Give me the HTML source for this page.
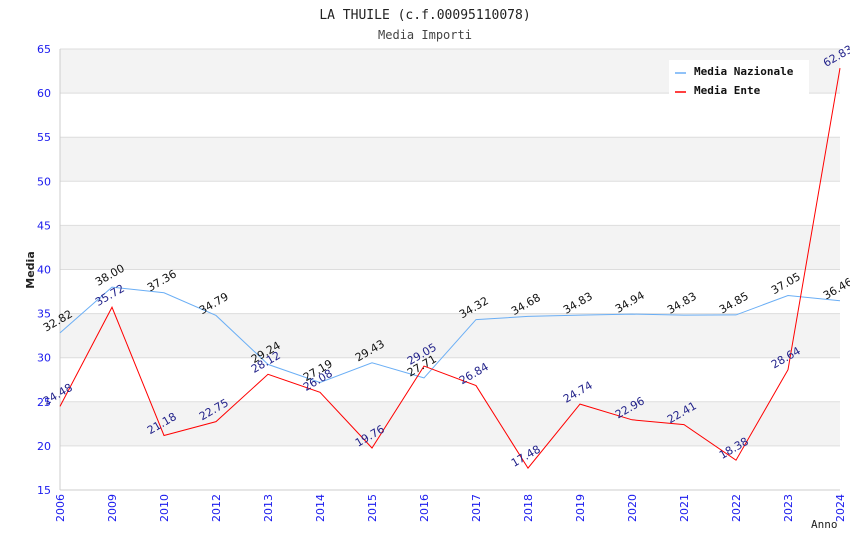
<!DOCTYPE html>
<html><head><meta charset="utf-8"><style>
body{margin:0;background:#fff;}
svg text{font-family:"DejaVu Sans","Liberation Sans",sans-serif;}
</style></head><body>
<svg id="chart" width="850" height="550" xmlns="http://www.w3.org/2000/svg">
<rect x="0" y="0" width="850" height="550" fill="#fff"/>
<text x="425" y="19" text-anchor="middle" font-size="13" fill="#222" style="font-family:'DejaVu Sans Mono','Liberation Mono',monospace">LA THUILE (c.f.00095110078)</text>
<text x="425" y="39" text-anchor="middle" font-size="12" fill="#444" style="font-family:'DejaVu Sans Mono','Liberation Mono',monospace">Media Importi</text>
<g id="bands"></g><g id="grid"></g><g id="axes"></g><g id="series"></g><g id="labels"></g>
<text transform="translate(34,270) rotate(-90)" text-anchor="middle" font-size="11" font-weight="bold" fill="#222">Media</text>
<text x="811" y="528" font-size="11" fill="#222" style="font-family:'DejaVu Sans Mono','Liberation Mono',monospace">Anno</text>
<g>
<rect x="669" y="60" width="140" height="36" fill="#fff"/>
<line x1="675" y1="73" x2="686" y2="73" stroke="#6aaef5" stroke-width="1.5"/>
<text x="694" y="75" font-size="11" font-weight="bold" fill="#111" style="font-family:'DejaVu Sans Mono','Liberation Mono',monospace">Media Nazionale</text>
<line x1="675" y1="92" x2="686" y2="92" stroke="#f00" stroke-width="1.5"/>
<text x="694" y="94" font-size="11" font-weight="bold" fill="#111" style="font-family:'DejaVu Sans Mono','Liberation Mono',monospace">Media Ente</text>
</g>
</svg>
<script>
const categories=["2006","2009","2010","2012","2013","2014","2015","2016","2017","2018","2019","2020","2021","2022","2023","2024"];
const nazionale=[32.82,38.00,37.36,34.79,29.24,27.19,29.43,27.71,34.32,34.68,34.83,34.94,34.83,34.85,37.05,36.46];
const ente=[24.48,35.72,21.18,22.75,28.12,26.08,19.76,29.05,26.84,17.48,24.74,22.96,22.41,18.38,28.64,62.83];
const yTicks=[15,20,25,30,35,40,45,50,55,60,65];
const NS="http://www.w3.org/2000/svg";
const L=60,R=840,T=49,B=490,ymin=15,ymax=65;
const xs=i=>L+i*(R-L)/(categories.length-1);
const ys=v=>B-(v-ymin)/(ymax-ymin)*(B-T);
function mk(tag,attrs,parent){const e=document.createElementNS(NS,tag);for(const k in attrs)e.setAttribute(k,attrs[k]);document.getElementById(parent).appendChild(e);return e;}
for(let i=0;i<yTicks.length-1;i++){
  if(i%2===1){const r=mk('rect',{x:L,y:ys(yTicks[i+1]),width:R-L,height:ys(yTicks[i])-ys(yTicks[i+1]),fill:'#f3f3f3'},'bands');
  
  }
}
yTicks.forEach(v=>{
  const g=mk('line',{x1:L,x2:R,y1:ys(v),y2:ys(v),stroke:'#ddd','stroke-width':1},'grid');
  
  
  const t=mk('text',{x:51,y:ys(v)+4,'text-anchor':'end','font-size':11,fill:'#1a1aee'},'axes');
  t.textContent=v;
  
  
});
mk('line',{x1:L,x2:L,y1:T,y2:B,stroke:'#ccc'},'axes');
mk('line',{x1:L,x2:R,y1:B,y2:B,stroke:'#ccc'},'axes');
categories.forEach((c,i)=>{
  const t=mk('text',{transform:`translate(${xs(i)+4},${B+4}) rotate(-90)`,'text-anchor':'end','font-size':11,fill:'#1a1aee'},'axes');
  t.textContent=c;
  
  
});
function series(data,color,name,lblColor){
  const p=mk('polyline',{points:data.map((v,i)=>xs(i)+','+ys(v)).join(' '),fill:'none',stroke:color,'stroke-width':1},'series');
  
  
  data.forEach((v,i)=>{
    const t=mk('text',{transform:`translate(${xs(i)-14},${ys(v)-1}) rotate(-30)`,'font-size':11,fill:lblColor},'labels');
    t.textContent=v.toFixed(2);
    
    
  });
}
series(nazionale,'#6aaef5','media-nazionale-line','#111');
series(ente,'#f00','media-ente-line','#22228a');
</script>
</body></html>
